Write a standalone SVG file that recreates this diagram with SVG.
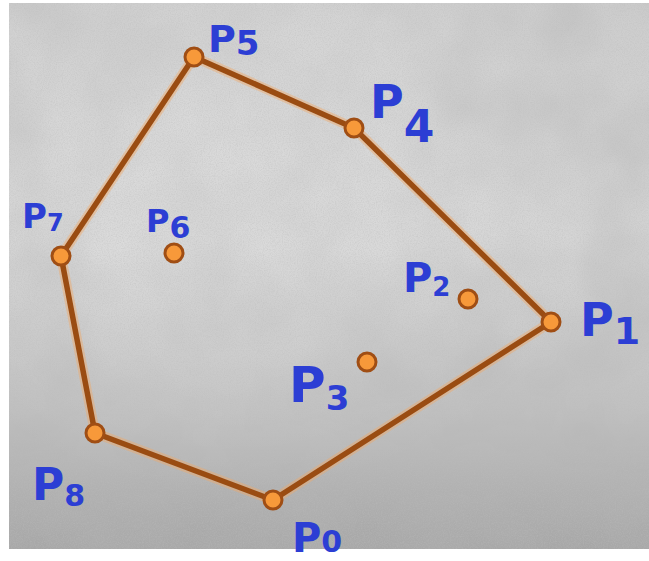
<svg xmlns="http://www.w3.org/2000/svg" width="649" height="561" viewBox="0 0 649 561">
<defs>
<linearGradient id="bg" x1="0" y1="0" x2="0" y2="1">
<stop offset="0" stop-color="#cdcdcd"/>
<stop offset="0.45" stop-color="#d4d4d4"/>
<stop offset="0.75" stop-color="#c0c0c0"/>
<stop offset="1" stop-color="#a6a6a6"/>
</linearGradient>
<radialGradient id="hl" cx="0.35" cy="0.3" r="0.6">
<stop offset="0" stop-color="#ffffff" stop-opacity="0.25"/>
<stop offset="1" stop-color="#ffffff" stop-opacity="0"/>
</radialGradient>
<filter id="noise" x="0" y="0" width="100%" height="100%">
<feTurbulence type="fractalNoise" baseFrequency="0.85" numOctaves="2" seed="3"/>
<feColorMatrix type="matrix" values="0 0 0 0 0.5  0 0 0 0 0.5  0 0 0 0 0.5  1.6 0 0 0 -0.6"/>
</filter>
<filter id="blot" x="0" y="0" width="100%" height="100%">
<feTurbulence type="fractalNoise" baseFrequency="0.012" numOctaves="3" seed="7"/>
<feColorMatrix type="matrix" values="0 0 0 0 0.45  0 0 0 0 0.45  0 0 0 0 0.45  0 0 0 0.7 -0.2"/>
</filter>
</defs>
<style>
.edge{fill:none;stroke:#9a4c12;stroke-width:5.5;stroke-linecap:round}
.halo{fill:none;stroke:#f0a868;stroke-width:10;stroke-opacity:0.45;stroke-linecap:round}
.pt circle{fill:#f7993a;stroke:#a04e14;stroke-width:3}
.lbl{font-family:"DejaVu Sans","Liberation Sans",sans-serif;font-weight:bold;fill:#2c3ed4}
</style>
<rect x="0" y="0" width="649" height="561" fill="#ffffff"/>
<g id="background">
<rect x="9" y="3" width="640" height="546" fill="url(#bg)"/>
<rect x="9" y="3" width="640" height="546" filter="url(#blot)"/>
<rect x="9" y="3" width="640" height="546" fill="url(#hl)"/>
<rect x="9" y="3" width="640" height="546" filter="url(#noise)" opacity="0.5"/>
</g>
<g id="connectors">
<polygon class="halo" points="194,57 354,128 551,322 273,500 95,433 61,256"/>
<polygon class="edge" points="194,57 354,128 551,322 273,500 95,433 61,256"/>
</g>
<g id="P5" class="pt"><circle cx="194" cy="57" r="9"/><text class="lbl" x="208" y="52" font-size="38">P<tspan font-size="34" dy="3">5</tspan></text></g>
<g id="P4" class="pt"><circle cx="354" cy="128" r="9"/><text class="lbl" x="370" y="118" font-size="46">P<tspan font-size="44" dy="24">4</tspan></text></g>
<g id="P1" class="pt"><circle cx="551" cy="322" r="9"/><text class="lbl" x="580" y="336" font-size="46">P<tspan font-size="38" dy="8">1</tspan></text></g>
<g id="P0" class="pt"><circle cx="273" cy="500" r="9"/><text class="lbl" x="292" y="552" font-size="40">P<tspan font-size="30">0</tspan></text></g>
<g id="P8" class="pt"><circle cx="95" cy="433" r="9"/><text class="lbl" x="32" y="500" font-size="44">P<tspan font-size="30" dy="6">8</tspan></text></g>
<g id="P7" class="pt"><circle cx="61" cy="256" r="9"/><text class="lbl" x="22" y="228" font-size="34">P<tspan font-size="24" dy="3">7</tspan></text></g>
<g id="P6" class="pt"><circle cx="174" cy="253" r="9"/><text class="lbl" x="146" y="232" font-size="32">P<tspan font-size="30" dy="6">6</tspan></text></g>
<g id="P2" class="pt"><circle cx="468" cy="299" r="9"/><text class="lbl" x="403" y="292" font-size="40">P<tspan font-size="26" dy="4">2</tspan></text></g>
<g id="P3" class="pt"><circle cx="367" cy="362" r="9"/><text class="lbl" x="289" y="402" font-size="50">P<tspan font-size="34" dy="8">3</tspan></text></g>
</svg>
